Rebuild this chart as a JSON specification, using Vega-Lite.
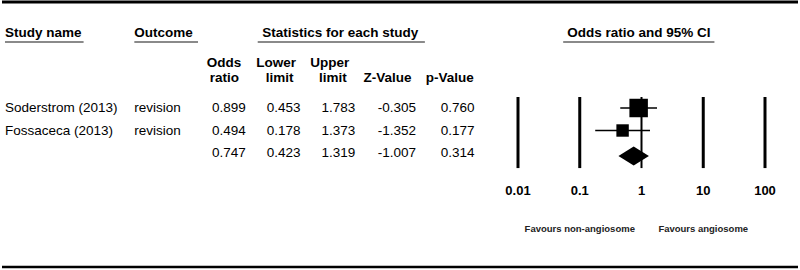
{
  "$schema": "https://vega.github.io/schema/vega-lite/v6.json",
  "width": 800,
  "height": 270,
  "padding": 0,
  "autosize": {"type": "fit", "contains": "padding"},
  "background": "white",
  "config": {
    "view": {"stroke": null},
    "text": {"font": "Liberation Sans", "fontSize": 13.5, "color": "#000", "baseline": "middle"},
    "rule": {"color": "#000"}
  },
  "datasets": {
    "studies": [
      {"row": 1, "study": "Soderstrom (2013)", "outcome": "revision", "ratio": 0.899, "lower": 0.453, "upper": 1.783, "z": -0.305, "p": 0.760, "weight": 68.9, "summary": false},
      {"row": 2, "study": "Fossaceca (2013)", "outcome": "revision", "ratio": 0.494, "lower": 0.178, "upper": 1.373, "z": -1.352, "p": 0.177, "weight": 31.1, "summary": false},
      {"row": 3, "study": "", "outcome": "", "ratio": 0.747, "lower": 0.423, "upper": 1.319, "z": -1.007, "p": 0.314, "weight": 0, "summary": true}
    ],
    "ticks": [{"v": 0.01}, {"v": 0.1}, {"v": 1}, {"v": 10}, {"v": 100}],
    "favours": [{"v": 0.1, "label": "Favours non-angiosome"}, {"v": 10, "label": "Favours angiosome"}],
    "one": [{}]
  },
  "resolve": {"scale": {"x": "independent"}},
  "layer": [
    {
      "layer": [
        {"data": {"name": "one"}, "mark": {"type": "rule", "strokeWidth": 3},
         "encoding": {"y": {"datum": -3.71, "type": "quantitative", "scale": {"domain": [-3.8, 8.2], "reverse": true, "nice": false, "zero": false}, "axis": null}}},
        {"data": {"name": "one"}, "mark": {"type": "rule", "strokeWidth": 2.5},
         "encoding": {"y": {"datum": 8.07, "type": "quantitative", "scale": {"domain": [-3.8, 8.2], "reverse": true, "nice": false, "zero": false}, "axis": null}}},
        {"data": {"name": "one"}, "mark": {"type": "text", "text": "Study name", "fontWeight": "bold", "align": "left"},
         "encoding": {"x": {"datum": 3, "type": "quantitative", "scale": {"domain": [0, 800], "nice": false, "zero": false}, "axis": null},
                      "y": {"datum": -2.333, "type": "quantitative", "scale": {"domain": [-3.8, 8.2], "reverse": true, "nice": false, "zero": false}, "axis": null}}},
        {"data": {"name": "one"}, "mark": {"type": "text", "text": "Outcome", "fontWeight": "bold", "align": "left"},
         "encoding": {"x": {"datum": 133, "type": "quantitative", "scale": {"domain": [0, 800], "nice": false, "zero": false}, "axis": null},
                      "y": {"datum": -2.333, "type": "quantitative", "scale": {"domain": [-3.8, 8.2], "reverse": true, "nice": false, "zero": false}, "axis": null}}},
        {"data": {"name": "one"}, "mark": {"type": "text", "text": "Statistics for each study", "fontWeight": "bold", "align": "center"},
         "encoding": {"x": {"datum": 340, "type": "quantitative", "scale": {"domain": [0, 800], "nice": false, "zero": false}, "axis": null},
                      "y": {"datum": -2.333, "type": "quantitative", "scale": {"domain": [-3.8, 8.2], "reverse": true, "nice": false, "zero": false}, "axis": null}}},
        {"data": {"name": "one"}, "mark": {"type": "text", "text": "Odds ratio and 95% CI", "fontWeight": "bold", "align": "center"},
         "encoding": {"x": {"datum": 640, "type": "quantitative", "scale": {"domain": [0, 800], "nice": false, "zero": false}, "axis": null},
                      "y": {"datum": -2.333, "type": "quantitative", "scale": {"domain": [-3.8, 8.2], "reverse": true, "nice": false, "zero": false}, "axis": null}}},
        {"data": {"name": "one"}, "mark": {"type": "rule", "strokeWidth": 2, "color": "#8a8a8a"},
         "encoding": {"x": {"datum": 3, "type": "quantitative", "scale": {"domain": [0, 800], "nice": false, "zero": false}, "axis": null}, "x2": {"datum": 82},
                      "y": {"datum": -1.933, "type": "quantitative", "scale": {"domain": [-3.8, 8.2], "reverse": true, "nice": false, "zero": false}, "axis": null}}},
        {"data": {"name": "one"}, "mark": {"type": "rule", "strokeWidth": 2, "color": "#8a8a8a"},
         "encoding": {"x": {"datum": 133, "type": "quantitative", "scale": {"domain": [0, 800], "nice": false, "zero": false}, "axis": null}, "x2": {"datum": 197},
                      "y": {"datum": -1.933, "type": "quantitative", "scale": {"domain": [-3.8, 8.2], "reverse": true, "nice": false, "zero": false}, "axis": null}}},
        {"data": {"name": "one"}, "mark": {"type": "rule", "strokeWidth": 2, "color": "#8a8a8a"},
         "encoding": {"x": {"datum": 257, "type": "quantitative", "scale": {"domain": [0, 800], "nice": false, "zero": false}, "axis": null}, "x2": {"datum": 425},
                      "y": {"datum": -1.933, "type": "quantitative", "scale": {"domain": [-3.8, 8.2], "reverse": true, "nice": false, "zero": false}, "axis": null}}},
        {"data": {"name": "one"}, "mark": {"type": "rule", "strokeWidth": 2, "color": "#8a8a8a"},
         "encoding": {"x": {"datum": 564, "type": "quantitative", "scale": {"domain": [0, 800], "nice": false, "zero": false}, "axis": null}, "x2": {"datum": 716},
                      "y": {"datum": -1.933, "type": "quantitative", "scale": {"domain": [-3.8, 8.2], "reverse": true, "nice": false, "zero": false}, "axis": null}}},
        {"data": {"name": "one"}, "mark": {"type": "text", "text": "Odds", "fontWeight": "bold", "align": "center"},
         "encoding": {"x": {"datum": 223, "type": "quantitative", "scale": {"domain": [0, 800], "nice": false, "zero": false}, "axis": null},
                      "y": {"datum": -1.0, "type": "quantitative", "scale": {"domain": [-3.8, 8.2], "reverse": true, "nice": false, "zero": false}, "axis": null}}},
        {"data": {"name": "one"}, "mark": {"type": "text", "text": "ratio", "fontWeight": "bold", "align": "center"},
         "encoding": {"x": {"datum": 223.5, "type": "quantitative", "scale": {"domain": [0, 800], "nice": false, "zero": false}, "axis": null},
                      "y": {"datum": -0.333, "type": "quantitative", "scale": {"domain": [-3.8, 8.2], "reverse": true, "nice": false, "zero": false}, "axis": null}}},
        {"data": {"name": "one"}, "mark": {"type": "text", "text": "Lower", "fontWeight": "bold", "align": "center"},
         "encoding": {"x": {"datum": 275.5, "type": "quantitative", "scale": {"domain": [0, 800], "nice": false, "zero": false}, "axis": null},
                      "y": {"datum": -1.0, "type": "quantitative", "scale": {"domain": [-3.8, 8.2], "reverse": true, "nice": false, "zero": false}, "axis": null}}},
        {"data": {"name": "one"}, "mark": {"type": "text", "text": "limit", "fontWeight": "bold", "align": "center"},
         "encoding": {"x": {"datum": 279, "type": "quantitative", "scale": {"domain": [0, 800], "nice": false, "zero": false}, "axis": null},
                      "y": {"datum": -0.333, "type": "quantitative", "scale": {"domain": [-3.8, 8.2], "reverse": true, "nice": false, "zero": false}, "axis": null}}},
        {"data": {"name": "one"}, "mark": {"type": "text", "text": "Upper", "fontWeight": "bold", "align": "center"},
         "encoding": {"x": {"datum": 329.5, "type": "quantitative", "scale": {"domain": [0, 800], "nice": false, "zero": false}, "axis": null},
                      "y": {"datum": -1.0, "type": "quantitative", "scale": {"domain": [-3.8, 8.2], "reverse": true, "nice": false, "zero": false}, "axis": null}}},
        {"data": {"name": "one"}, "mark": {"type": "text", "text": "limit", "fontWeight": "bold", "align": "center"},
         "encoding": {"x": {"datum": 332.5, "type": "quantitative", "scale": {"domain": [0, 800], "nice": false, "zero": false}, "axis": null},
                      "y": {"datum": -0.333, "type": "quantitative", "scale": {"domain": [-3.8, 8.2], "reverse": true, "nice": false, "zero": false}, "axis": null}}},
        {"data": {"name": "one"}, "mark": {"type": "text", "text": "Z-Value", "fontWeight": "bold", "align": "center"},
         "encoding": {"x": {"datum": 387.5, "type": "quantitative", "scale": {"domain": [0, 800], "nice": false, "zero": false}, "axis": null},
                      "y": {"datum": -0.333, "type": "quantitative", "scale": {"domain": [-3.8, 8.2], "reverse": true, "nice": false, "zero": false}, "axis": null}}},
        {"data": {"name": "one"}, "mark": {"type": "text", "text": "p-Value", "fontWeight": "bold", "align": "center"},
         "encoding": {"x": {"datum": 450, "type": "quantitative", "scale": {"domain": [0, 800], "nice": false, "zero": false}, "axis": null},
                      "y": {"datum": -0.333, "type": "quantitative", "scale": {"domain": [-3.8, 8.2], "reverse": true, "nice": false, "zero": false}, "axis": null}}},
        {"data": {"name": "studies"}, "mark": {"type": "text", "align": "left"},
         "encoding": {"x": {"datum": 3, "type": "quantitative", "scale": {"domain": [0, 800], "nice": false, "zero": false}, "axis": null},
                      "y": {"field": "row", "type": "quantitative", "scale": {"domain": [-3.8, 8.2], "reverse": true, "nice": false, "zero": false}, "axis": null},
                      "text": {"field": "study", "type": "nominal"}}},
        {"data": {"name": "studies"}, "mark": {"type": "text", "align": "left"},
         "encoding": {"x": {"datum": 133, "type": "quantitative", "scale": {"domain": [0, 800], "nice": false, "zero": false}, "axis": null},
                      "y": {"field": "row", "type": "quantitative", "scale": {"domain": [-3.8, 8.2], "reverse": true, "nice": false, "zero": false}, "axis": null},
                      "text": {"field": "outcome", "type": "nominal"}}},
        {"data": {"name": "studies"}, "mark": {"type": "text", "align": "right"},
         "encoding": {"x": {"datum": 245, "type": "quantitative", "scale": {"domain": [0, 800], "nice": false, "zero": false}, "axis": null},
                      "y": {"field": "row", "type": "quantitative", "scale": {"domain": [-3.8, 8.2], "reverse": true, "nice": false, "zero": false}, "axis": null},
                      "text": {"field": "ratio", "type": "quantitative", "format": ".3f"}}},
        {"data": {"name": "studies"}, "mark": {"type": "text", "align": "right"},
         "encoding": {"x": {"datum": 300, "type": "quantitative", "scale": {"domain": [0, 800], "nice": false, "zero": false}, "axis": null},
                      "y": {"field": "row", "type": "quantitative", "scale": {"domain": [-3.8, 8.2], "reverse": true, "nice": false, "zero": false}, "axis": null},
                      "text": {"field": "lower", "type": "quantitative", "format": ".3f"}}},
        {"data": {"name": "studies"}, "mark": {"type": "text", "align": "right"},
         "encoding": {"x": {"datum": 355, "type": "quantitative", "scale": {"domain": [0, 800], "nice": false, "zero": false}, "axis": null},
                      "y": {"field": "row", "type": "quantitative", "scale": {"domain": [-3.8, 8.2], "reverse": true, "nice": false, "zero": false}, "axis": null},
                      "text": {"field": "upper", "type": "quantitative", "format": ".3f"}}},
        {"data": {"name": "studies"},
         "transform": [{"calculate": "replace(format(datum.z, '.3f'), '\u2212', '-')", "as": "zText"}],
         "mark": {"type": "text", "align": "right"},
         "encoding": {"x": {"datum": 416, "type": "quantitative", "scale": {"domain": [0, 800], "nice": false, "zero": false}, "axis": null},
                      "y": {"field": "row", "type": "quantitative", "scale": {"domain": [-3.8, 8.2], "reverse": true, "nice": false, "zero": false}, "axis": null},
                      "text": {"field": "zText", "type": "nominal"}}},
        {"data": {"name": "studies"}, "mark": {"type": "text", "align": "right"},
         "encoding": {"x": {"datum": 475, "type": "quantitative", "scale": {"domain": [0, 800], "nice": false, "zero": false}, "axis": null},
                      "y": {"field": "row", "type": "quantitative", "scale": {"domain": [-3.8, 8.2], "reverse": true, "nice": false, "zero": false}, "axis": null},
                      "text": {"field": "p", "type": "quantitative", "format": ".3f"}}}
      ]
    },
    {
      "layer": [
        {"data": {"name": "ticks"}, "mark": {"type": "rule"},
         "encoding": {"x": {"field": "v", "type": "quantitative", "scale": {"type": "log", "domain": [0.01, 100], "range": [516, 763], "nice": false}, "axis": null},
                      "y": {"datum": 0.51, "type": "quantitative", "scale": {"domain": [-3.8, 8.2], "reverse": true, "nice": false, "zero": false}, "axis": null},
                      "y2": {"datum": 3.67},
                      "strokeWidth": {"condition": {"test": "datum.v == 1", "value": 2}, "value": 3}}},
        {"data": {"name": "ticks"}, "mark": {"type": "text", "fontWeight": "bold", "fontSize": 13, "align": "center"},
         "encoding": {"x": {"field": "v", "type": "quantitative", "scale": {"type": "log", "domain": [0.01, 100], "range": [516, 763], "nice": false}, "axis": null},
                      "y": {"datum": 4.69, "type": "quantitative", "scale": {"domain": [-3.8, 8.2], "reverse": true, "nice": false, "zero": false}, "axis": null},
                      "text": {"field": "v", "type": "nominal"}}},
        {"data": {"name": "studies"}, "transform": [{"filter": "!datum.summary"}],
         "mark": {"type": "rule", "strokeWidth": 1.5},
         "encoding": {"x": {"field": "lower", "type": "quantitative", "scale": {"type": "log", "domain": [0.01, 100], "range": [516, 763], "nice": false}, "axis": null},
                      "x2": {"field": "upper"},
                      "y": {"field": "row", "type": "quantitative", "scale": {"domain": [-3.8, 8.2], "reverse": true, "nice": false, "zero": false}, "axis": null}}},
        {"data": {"name": "studies"}, "transform": [{"filter": "!datum.summary"}],
         "mark": {"type": "point", "shape": "square", "filled": true, "color": "#000", "opacity": 1, "strokeWidth": 0},
         "encoding": {"x": {"field": "ratio", "type": "quantitative", "scale": {"type": "log", "domain": [0.01, 100], "range": [516, 763], "nice": false}, "axis": null},
                      "y": {"field": "row", "type": "quantitative", "scale": {"domain": [-3.8, 8.2], "reverse": true, "nice": false, "zero": false}, "axis": null},
                      "size": {"field": "weight", "type": "quantitative", "scale": {"domain": [0, 100], "range": [0, 496], "zero": true}, "legend": null}}},
        {"data": {"name": "studies"},
         "transform": [
           {"filter": "datum.summary"},
           {"fold": ["lower", "ratio", "upper"], "as": ["k", "val"]},
           {"calculate": "datum.k == 'ratio' ? 0.42 : 0", "as": "h"},
           {"calculate": "datum.row - datum.h", "as": "y0"},
           {"calculate": "datum.row + datum.h", "as": "y1"}
         ],
         "mark": {"type": "area", "orient": "vertical", "color": "#000", "opacity": 1, "yOffset": 3, "y2Offset": 3},
         "encoding": {"x": {"field": "val", "type": "quantitative", "scale": {"type": "log", "domain": [0.01, 100], "range": [516, 763], "nice": false}, "axis": null},
                      "y": {"field": "y0", "type": "quantitative", "scale": {"domain": [-3.8, 8.2], "reverse": true, "nice": false, "zero": false}, "axis": null},
                      "y2": {"field": "y1"}}},
        {"data": {"name": "favours"}, "mark": {"type": "text", "fontWeight": "bold", "fontSize": 9.5, "align": "center", "color": "#222"},
         "encoding": {"x": {"field": "v", "type": "quantitative", "scale": {"type": "log", "domain": [0.01, 100], "range": [516, 763], "nice": false}, "axis": null},
                      "y": {"datum": 6.38, "type": "quantitative", "scale": {"domain": [-3.8, 8.2], "reverse": true, "nice": false, "zero": false}, "axis": null},
                      "text": {"field": "label", "type": "nominal"}}}
      ]
    }
  ]
}
